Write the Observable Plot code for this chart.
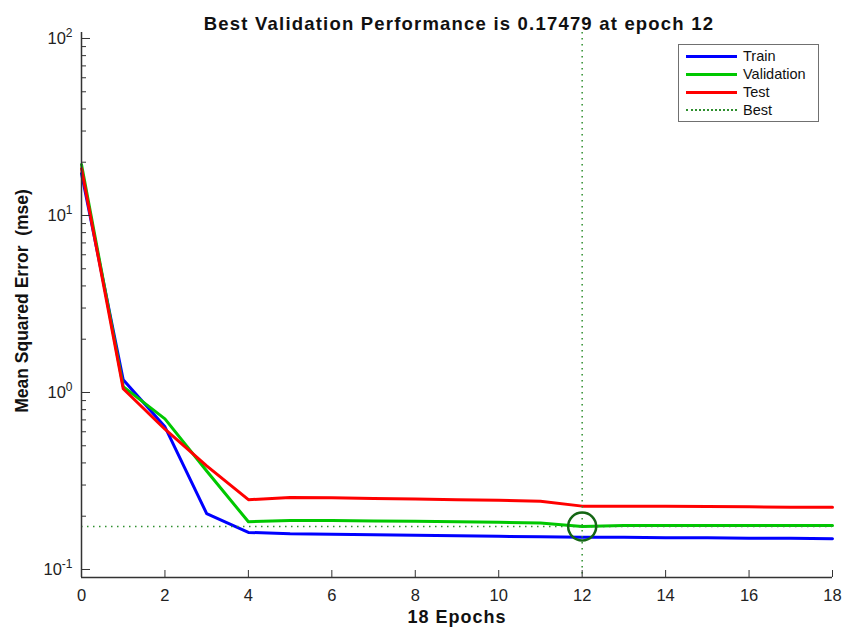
<!DOCTYPE html>
<html><head><meta charset="utf-8">
<script src="https://cdn.jsdelivr.net/npm/d3@7"></script>
<script src="https://cdn.jsdelivr.net/npm/@observablehq/plot@0.6"></script>
<style>
body{margin:0;background:#fff;}
#wrap{position:relative;width:856px;height:631px;font-family:"Liberation Sans",Arial,sans-serif;}
#legend{position:absolute;left:678px;top:44px;width:139px;height:76px;border:1px solid #707070;background:#fff;}
.row{position:absolute;left:0;height:18px;width:139px;}
.sample{position:absolute;left:7px;width:51px;top:8px;}
.lab{position:absolute;left:64px;top:0;font-size:14.5px;line-height:18px;color:#111;}
</style></head>
<body><div id="wrap"></div>
<script>
const epochs = [0,1,2,3,4,5,6,7,8,9,10,11,12,13,14,15,16,17,18];
const train = [17.3,1.18,0.64,0.207,0.162,0.159,0.158,0.157,0.156,0.155,0.154,0.153,0.152,0.152,0.151,0.151,0.150,0.150,0.149];
const validation = [19.4,1.08,0.71,0.36,0.186,0.189,0.189,0.188,0.187,0.186,0.185,0.183,0.17479,0.177,0.177,0.177,0.177,0.177,0.177];
const test = [18.4,1.05,0.62,0.385,0.248,0.255,0.254,0.252,0.250,0.248,0.246,0.243,0.228,0.228,0.228,0.227,0.226,0.225,0.225];
const bestEpoch = 12;
const bestValue = 0.17479;
const xTicks = [0,2,4,6,8,10,12,14,16,18];
const yMajor = [0.1,1,10,100];
const yTickBase = "10";
const yTickExponents = ["-1","0","1","2"];
const yMinor = [0.2,0.3,0.4,0.5,0.6,0.7,0.8,0.9,2,3,4,5,6,7,8,9,20,30,40,50,60,70,80,90];
const seriesNames = ["Train","Validation","Test"];
const seriesColors = ["#0000ff","#00c800","#ff0000"];
const titleText = "Best Validation Performance is 0.17479 at epoch 12";
const xLabel = "18 Epochs";
const yLabel = "Mean Squared Error  (mse)";

const seriesValues = [train, validation, test];
const rows = seriesNames.flatMap((s, k) => epochs.map((e, i) => ({epoch: e, mse: seriesValues[k][i], series: s})));

const W = 856, H = 631, mL = 81, mR = 24, mT = 32, mB = 54;
const fw = W - mL - mR, fh = H - mT - mB;
const axisColor = "#333";
const bestColor = "#2f8f2f";
const font = '"Liberation Sans", Arial, sans-serif';

const chart = Plot.plot({
  width: W, height: H,
  marginLeft: mL, marginRight: mR, marginTop: mT, marginBottom: mB,
  x: {domain: [0, 18]},
  y: {type: "log", domain: [0.0901, 108.1]},
  color: {domain: seriesNames, range: seriesColors},
  style: {fontFamily: font, fontSize: "16.5px", color: "#222", background: "white"},
  marks: [
    Plot.line(rows, {x: "epoch", y: "mse", z: "series", stroke: "series", strokeWidth: 3}),
    Plot.ruleY([bestValue], {stroke: bestColor, strokeWidth: 1.5, strokeDasharray: "1.5,4.5"}),
    Plot.ruleX([bestEpoch], {stroke: bestColor, strokeWidth: 1.5, strokeDasharray: "1.5,4.5"}),
    Plot.dot([{epoch: bestEpoch, mse: bestValue}], {x: "epoch", y: "mse", r: 14, stroke: "#146614", strokeWidth: 2.5}),
    Plot.ruleX([0], {stroke: axisColor, strokeWidth: 1.5}),
    Plot.ruleY([0.0901], {stroke: axisColor, strokeWidth: 1.5}),
    Plot.tickX(xTicks, {x: d => d, insetTop: fh - 7, stroke: axisColor}),
    Plot.tickY(yMajor, {y: d => d, insetRight: fw - 9, stroke: axisColor}),
    Plot.tickY(yMinor, {y: d => d, insetRight: fw - 5, stroke: axisColor}),
    Plot.axisX({ticks: xTicks, tickSize: 0, tickPadding: 12, fontSize: 16.5, label: null}),
    Plot.axisY({ticks: yMajor, tickSize: 0, tickPadding: 9, fontSize: 16.5, tickFormat: d => yTickBase + "|" + yTickExponents[yMajor.indexOf(d)], label: null}),
    Plot.text([titleText], {text: d => d, frameAnchor: "top", dx: 2, dy: -16, fontSize: 18.5, fontWeight: "bold", fill: "#111"}),
    Plot.text([xLabel], {text: d => d, frameAnchor: "bottom", dy: 45, fontSize: 18, fontWeight: "bold", fill: "#111"}),
    Plot.text([yLabel], {text: d => d, frameAnchor: "left", textAnchor: "middle", dx: -59, dy: -4, rotate: -90, fontSize: 17.5, fontWeight: "bold", fill: "#111"})
  ]
});
const wrap = document.getElementById("wrap");
wrap.appendChild(chart);

// typographic touches: superscript exponents and letter spacing
chart.querySelectorAll("text").forEach(t => {
  const s = t.textContent;
  if (s.includes("|")) {
    const [base, exp] = s.split("|");
    t.textContent = "";
    const b = document.createElementNS("http://www.w3.org/2000/svg", "tspan");
    b.textContent = base;
    const e = document.createElementNS("http://www.w3.org/2000/svg", "tspan");
    e.textContent = exp;
    e.setAttribute("font-size", "12");
    e.setAttribute("dy", "-7");
    t.appendChild(b); t.appendChild(e);
  } else if (s === titleText) {
    t.setAttribute("letter-spacing", "1.2");
  } else if (s === xLabel) {
    t.setAttribute("letter-spacing", "1");
  }
});

const legend = document.createElement("div");
legend.id = "legend";
const legendItems = seriesNames.map((s, i) => ({name: s, color: seriesColors[i], dotted: false})).concat([{name: "Best", color: bestColor, dotted: true}]);
legendItems.forEach((it, i) => {
  const row = document.createElement("div");
  row.className = "row";
  row.style.top = (2 + i * 18) + "px";
  const sm = document.createElement("div");
  sm.className = "sample";
  sm.style.borderTop = it.dotted ? `2px dotted ${it.color}` : `3px solid ${it.color}`;
  const lb = document.createElement("div");
  lb.className = "lab";
  lb.textContent = it.name;
  row.appendChild(sm); row.appendChild(lb);
  legend.appendChild(row);
});
wrap.appendChild(legend);
</script></body></html>
